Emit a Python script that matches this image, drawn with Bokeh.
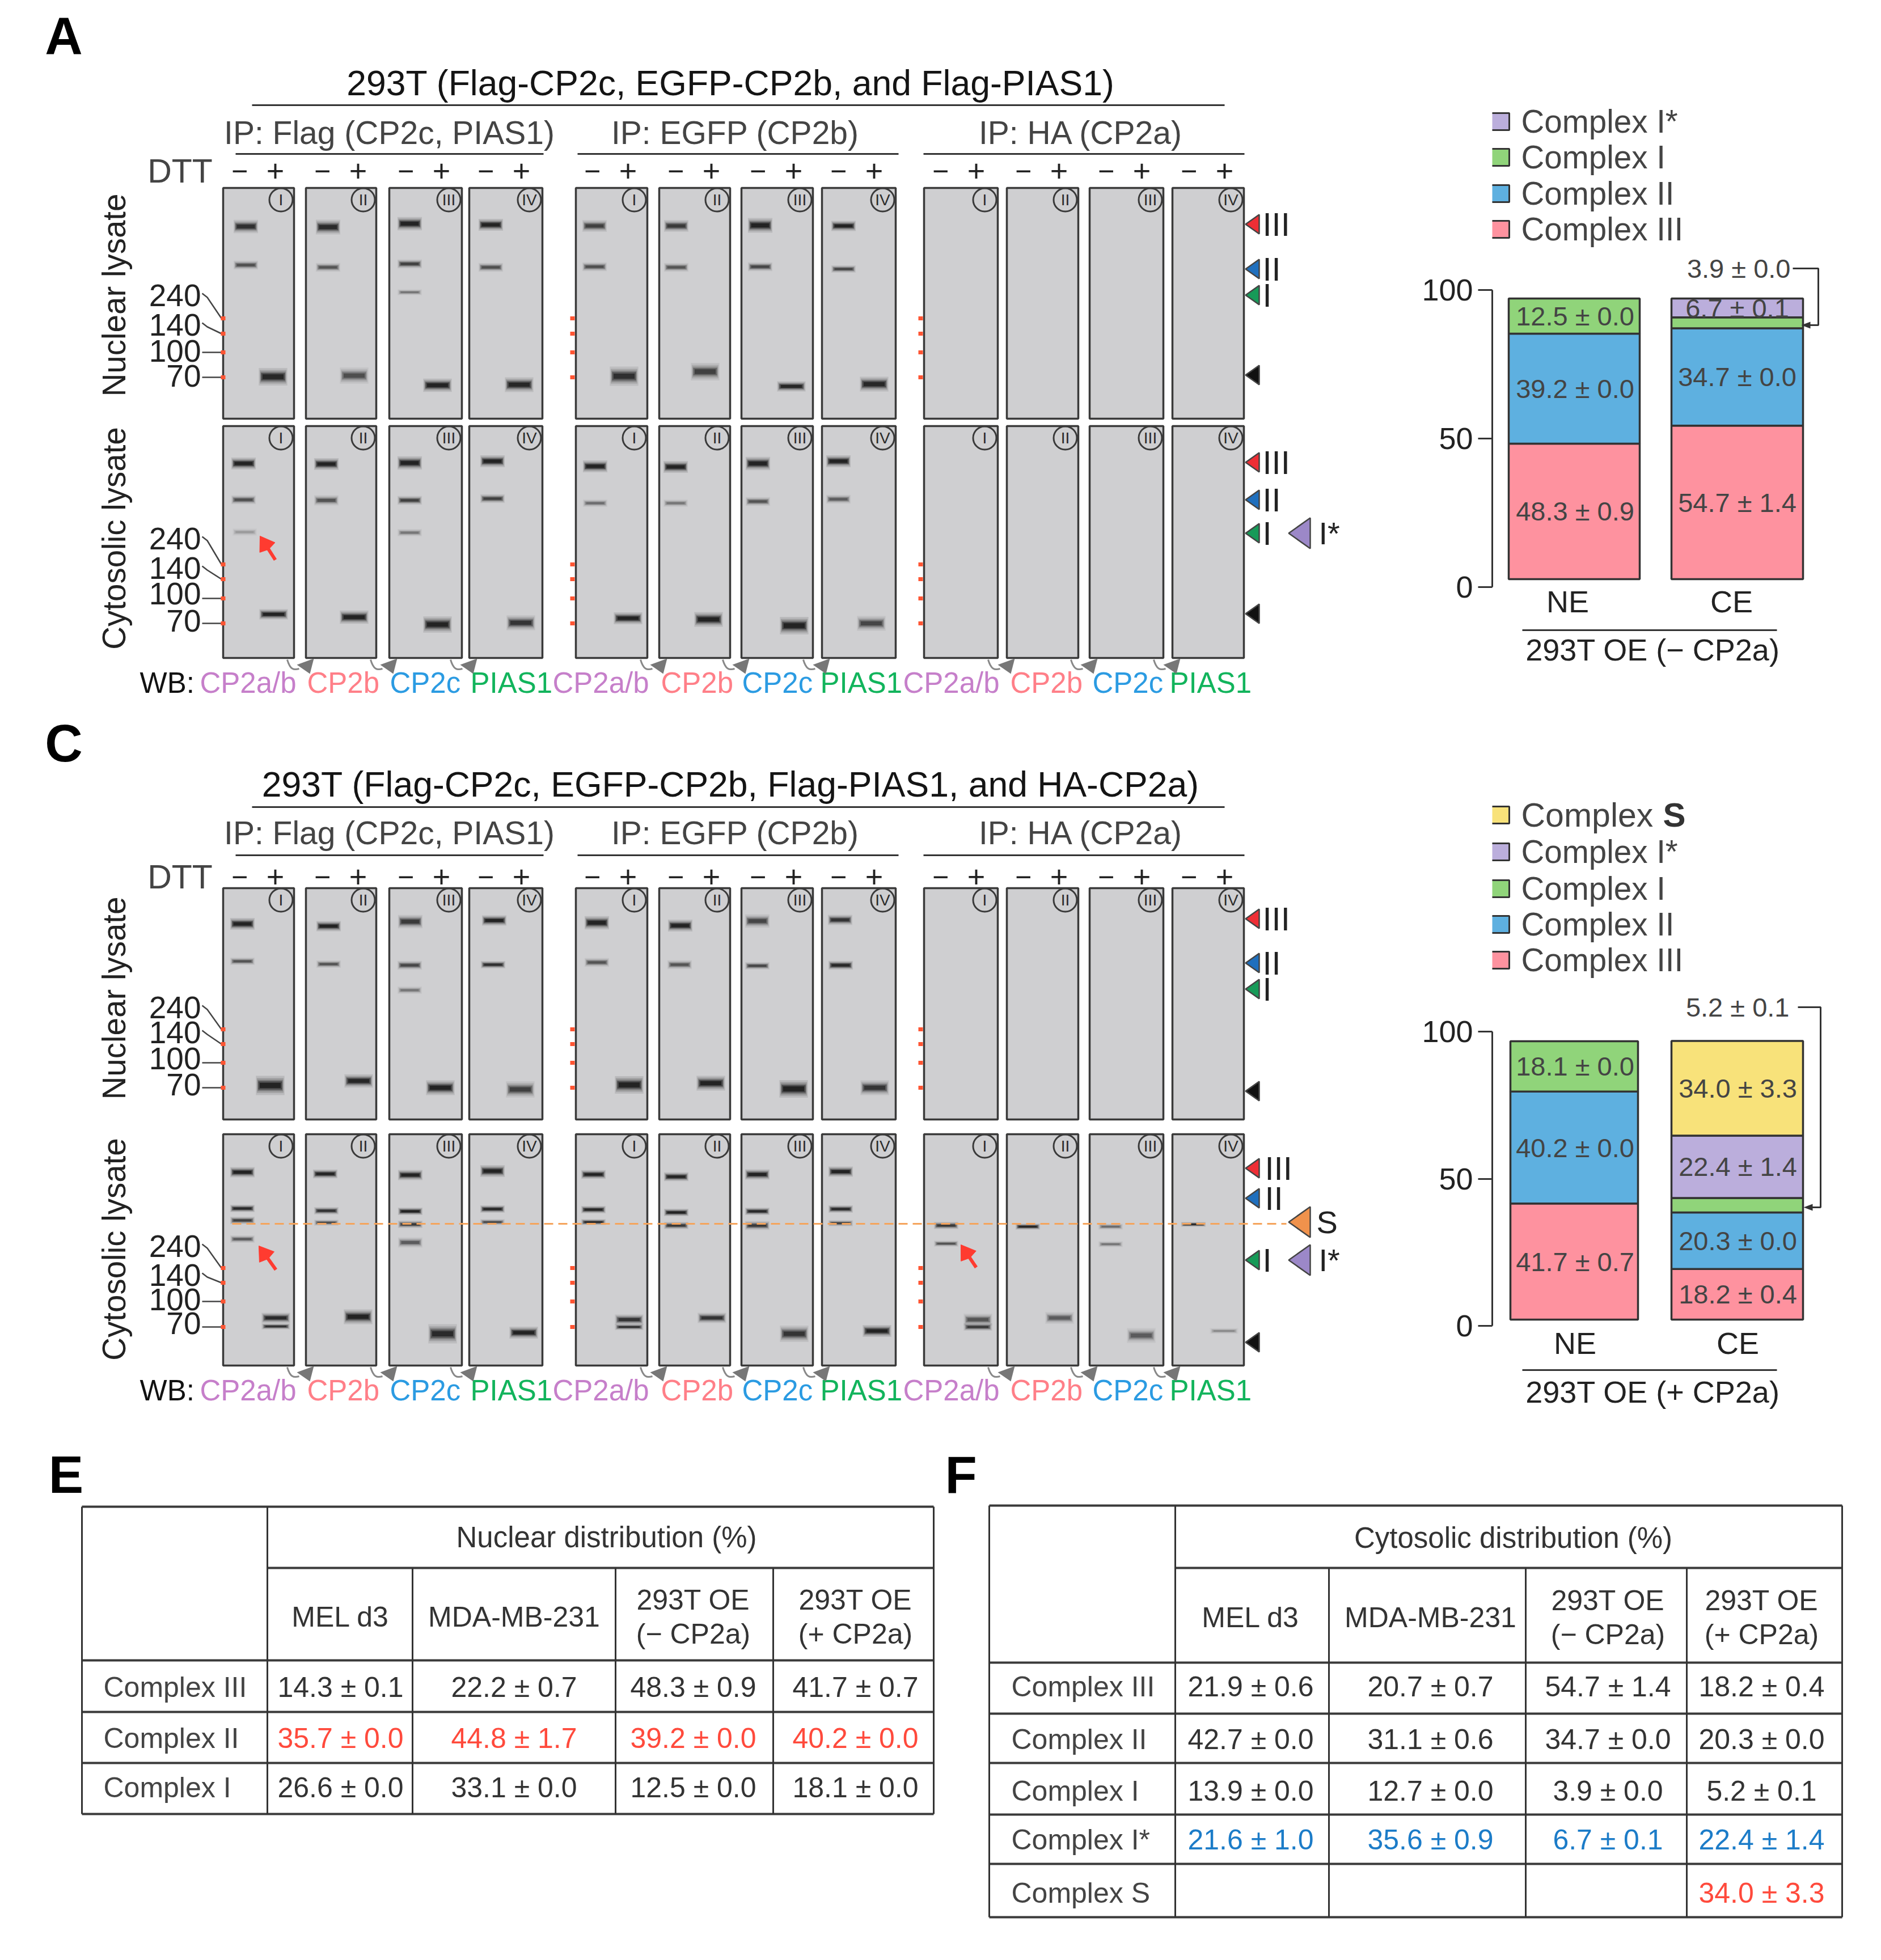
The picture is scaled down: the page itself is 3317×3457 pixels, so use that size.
import math
from bokeh.plotting import figure
from bokeh.layouts import column, row
from bokeh.models import Range1d, LinearAxis, FixedTicker, Label
from bokeh.core.properties import value
from bokeh.embed import file_html
from bokeh.resources import INLINE

FONT = "Liberation Sans"
INK = "#333333"

# ---------------------------------------------------------------- data
# Stacked bars: fractions per category (NE, CE)
categories = ["NE", "CE"]
complexes_b = ["Complex I*", "Complex I", "Complex II", "Complex III"]
complexes_d = ["Complex S", "Complex I*", "Complex I", "Complex II", "Complex III"]

b_iii = [48.3, 54.7]
b_ii = [39.2, 34.7]
b_i = [12.5, 3.9]
b_istar = [0.0, 6.7]
b_iii_err = [0.9, 1.4]
b_ii_err = [0.0, 0.0]
b_i_err = [0.0, 0.0]
b_istar_err = [0.0, 0.1]

d_iii = [41.7, 18.2]
d_ii = [40.2, 20.3]
d_i = [18.1, 5.2]
d_istar = [0.0, 22.4]
d_s = [0.0, 34.0]
d_iii_err = [0.7, 0.4]
d_ii_err = [0.0, 0.0]
d_i_err = [0.0, 0.1]
d_istar_err = [0.0, 1.4]
d_s_err = [0.0, 3.3]

# Tables
table_cols = ["MEL d3", "MDA-MB-231", "293T OE\n(\u2212 CP2a)", "293T OE\n(+ CP2a)"]
e_rows = ["Complex III", "Complex II", "Complex I"]
e_iii = ["14.3 \u00b1 0.1", "22.2 \u00b1 0.7", "48.3 \u00b1 0.9", "41.7 \u00b1 0.7"]
e_ii = ["35.7 \u00b1 0.0", "44.8 \u00b1 1.7", "39.2 \u00b1 0.0", "40.2 \u00b1 0.0"]
e_i = ["26.6 \u00b1 0.0", "33.1 \u00b1 0.0", "12.5 \u00b1 0.0", "18.1 \u00b1 0.0"]
f_rows = ["Complex III", "Complex II", "Complex I", "Complex I*", "Complex S"]
f_iii = ["21.9 \u00b1 0.6", "20.7 \u00b1 0.7", "54.7 \u00b1 1.4", "18.2 \u00b1 0.4"]
f_ii = ["42.7 \u00b1 0.0", "31.1 \u00b1 0.6", "34.7 \u00b1 0.0", "20.3 \u00b1 0.0"]
f_i = ["13.9 \u00b1 0.0", "12.7 \u00b1 0.0", "3.9 \u00b1 0.0", "5.2 \u00b1 0.1"]
f_istar = ["21.6 \u00b1 1.0", "35.6 \u00b1 0.9", "6.7 \u00b1 0.1", "22.4 \u00b1 1.4"]
f_s = ["", "", "", "34.0 \u00b1 3.3"]

# Blot bands, one list per membrane: (lane offset, migration, intensity, thickness)
a_nuclear = [
    [(40, 68, .85, 9), (40, 136, .6, 6), (88, 333, .95, 12)],
    [(39, 69, .9, 10), (39, 140, .55, 6), (85, 331, .6, 11)],
    [(36, 63, 1, 9), (36, 134, .7, 6), (36, 184, .35, 4), (85, 348, 1, 9)],
    [(38, 65, 1, 8), (38, 140, .6, 6), (88, 347, .95, 10)],
    [(33, 67, .7, 8), (33, 139, .6, 6), (85, 332, .85, 13)],
    [(30, 67, .75, 8), (30, 140, .55, 6), (81, 324, .7, 12)],
    [(33, 66, 1, 10), (33, 139, .65, 6), (88, 350, .95, 7)],
    [(38, 67, 1, 7), (38, 143, .65, 5), (92, 346, .95, 10)],
    [], [], [], [],
]
a_cytosolic = [
    [(36, 66, 1, 8), (36, 130, .6, 6), (38, 187, .18, 5), (89, 332, 1, 7)],
    [(36, 67, 1, 8), (36, 131, .55, 7), (85, 337, 1, 9)],
    [(36, 65, 1, 9), (36, 131, .7, 6), (36, 188, .35, 5), (85, 350, 1, 11)],
    [(41, 62, 1, 8), (41, 128, .7, 6), (91, 347, .8, 10)],
    [(34, 71, 1, 8), (34, 136, .4, 5), (92, 339, 1, 8)],
    [(29, 72, 1, 8), (29, 136, .35, 5), (87, 341, 1, 10)],
    [(29, 66, 1, 9), (29, 133, .55, 6), (93, 352, 1, 12)],
    [(29, 62, 1, 8), (29, 129, .5, 6), (87, 348, .65, 10)],
    [], [], [], [],
]
c_nuclear = [
    [(34, 63, 1, 8), (34, 129, .55, 5), (83, 348, 1, 13)],
    [(40, 67, 1, 7), (40, 134, .55, 5), (93, 340, .95, 9)],
    [(37, 59, .75, 9), (36, 136, .65, 6), (36, 180, .35, 5), (90, 352, 1, 10)],
    [(44, 57, 1, 7), (42, 135, .85, 5), (90, 355, .7, 11)],
    [(37, 61, 1, 9), (37, 131, .55, 6), (94, 347, 1, 12)],
    [(37, 66, 1, 8), (36, 135, .55, 6), (91, 344, 1, 10)],
    [(28, 58, .65, 9), (28, 137, .65, 5), (92, 354, 1, 12)],
    [(32, 56, .8, 7), (33, 136, .95, 6), (93, 352, .8, 10)],
    [], [], [], [],
]
c_cytosolic = [
    [(34, 67, 1, 7), (34, 131, .9, 5), (34, 152, .7, 5), (34, 185, .5, 5), (93, 324, .9, 7), (93, 339, .8, 4)],
    [(34, 70, 1, 6), (36, 135, .8, 5), (36, 156, .6, 4), (92, 322, 1, 10)],
    [(37, 72, 1, 7), (37, 136, 1, 5), (37, 159, .75, 5), (37, 191, .5, 7), (94, 352, .9, 13)],
    [(41, 65, 1, 8), (41, 132, .95, 5), (41, 155, .6, 4), (96, 350, 1, 8)],
    [(31, 71, 1, 6), (31, 133, .95, 5), (31, 155, .85, 4), (94, 327, .8, 7), (94, 340, .8, 4)],
    [(30, 75, 1, 6), (30, 138, 1, 5), (30, 161, .75, 5), (93, 324, .8, 7)],
    [(28, 71, 1, 7), (28, 136, .9, 5), (28, 161, .75, 6), (93, 352, .8, 11)],
    [(33, 66, 1, 7), (33, 132, .9, 5), (33, 157, .7, 4), (97, 347, 1, 8)],
    [(39, 161, .75, 5), (39, 193, .55, 4), (95, 327, .55, 8), (95, 340, .75, 5)],
    [(37, 163, .95, 4), (93, 324, .5, 8)],
    [(37, 163, .4, 4), (37, 194, .35, 4), (91, 355, .5, 10)],
    [(37, 159, 1, 3), (91, 347, .25, 4)],
]
mw_labels = ["240", "140", "100", "70"]
numerals = ["I", "II", "III", "IV"]
blots = ["CP2a/b", "CP2b", "CP2c", "PIAS1"]
blot_colors = ["#c67fca", "#ff7f88", "#2b9be2", "#12b45c"]


# ---------------------------------------------------------------- helpers
def canvas(x0, x1, y0, y1, border_left=0):
    """A figure whose default ranges are page pixels."""
    f = figure(width=x1 - x0, height=y1 - y0, output_backend="svg", toolbar_location=None,
               x_range=Range1d(x0 + border_left, x1), y_range=Range1d(y1, y0),
               x_axis_location=None, y_axis_location=None,
               min_border=0, min_border_left=border_left, min_border_right=0,
               min_border_top=0, min_border_bottom=0)
    f.grid.visible = False
    f.outline_line_color = None
    f.background_fill_color = "white"
    return f


def T(f, x, y, s, size=54, color=INK, align="center", angle=0, bold=False, baseline="middle"):
    f.text([x], [y], text=[s], text_font=value(FONT), text_font_size=f"{size}px",
           text_color=color, text_align=align, text_baseline=baseline, angle=angle,
           text_font_style="bold" if bold else "normal")


def seg(f, xs, ys, color=INK, w=3, dash="solid"):
    f.line(xs, ys, line_color=color, line_width=w, line_dash=dash)


def tri_left(f, tip_x, y, w, h, color):
    f.patch([tip_x, tip_x + w, tip_x + w], [y, y - h / 2, y + h / 2], fill_color=color,
            line_color="#444444", line_width=2.5)


def arrow(f, tip, tail):
    dx, dy = tail[0] - tip[0], tail[1] - tip[1]
    L = math.hypot(dx, dy)
    ux, uy = dx / L, dy / L
    nx, ny = -uy, ux
    back = (tip[0] + ux * 24, tip[1] + uy * 24)
    seg(f, [back[0], tail[0]], [back[1], tail[1]], "#ff3b30", 6)
    f.patch([tip[0], back[0] + nx * 16, back[0] - ux * -4, back[0] - nx * 16],
            [tip[1], back[1] + ny * 16, back[1] - uy * -4, back[1] - ny * 16],
            fill_color="#ff3b30", line_color="#ff3b30", line_width=1)


PANEL_X = [(393, 518), (539, 663), (686, 814), (827, 956),
           (1015, 1141), (1162, 1287), (1307, 1433), (1449, 1579),
           (1629, 1759), (1775, 1901), (1921, 2051), (2067, 2193)]
LANE_SIGN = (29, 92)
BAND_LAYERS = [(1.2, 2.6, .10), (1.12, 2.0, .16), (1.05, 1.5, .26), (1.0, 1.1, .42), (.88, .7, .6)]


def membranes(f, top, bottom, bands):
    lefts = [a for a, _ in PANEL_X]
    rights = [b for _, b in PANEL_X]
    f.quad(left=lefts, right=rights, top=[top] * 12, bottom=[bottom] * 12,
           fill_color="#cfcfd1", line_color="#3a3a3a", line_width=3.5)
    for (bw, bh, ba) in BAND_LAYERS:
        xs, ys, ws, hs, als = [], [], [], [], []
        for left, lane in zip(lefts, bands):
            for dx, mig, inten, thick in lane:
                xs.append(left + dx)
                ys.append(top + mig)
                ws.append((36 if dx < 60 else 42) * bw)
                hs.append(thick * bh)
                als.append(min(1, inten * ba))
        if xs:
            f.rect(xs, ys, width=ws, height=hs, fill_color="#0a0a0a", fill_alpha=als, line_color=None)
    cx = [r - 23 for r in rights]
    f.scatter(cx, [top + 21] * 12, marker="circle", size=41, fill_color=None,
              line_color="#3a3a3a", line_width=3)
    f.text(cx, [top + 21] * 12, text=numerals * 3, text_font=value(FONT), text_font_size="28px",
           text_color="#2a2a2a", text_align="center", text_baseline="middle")


def mw_ladder(f, red_y, label_y, left_x=393):
    for lab, ry, ly, k in zip(mw_labels, red_y, label_y, range(4)):
        T(f, 354, ly, lab, 55, "#222222", "right")
        if k < 2:
            seg(f, [356, 365, 390], [ly - 3, ly + 4, ry], "#444444", 2.5)
        else:
            seg(f, [356, 390], [ry, ry], "#444444", 2.5)
    for px in (393, 1009, 1623):
        f.rect([px] * 4, red_y, width=8, height=7, fill_color="#ff5533", line_color=None)


def blot_figure(f, title, title_center, lines):
    """Headers of one western-blot panel."""
    y_title, y_rule, y_ip, y_ip_rule, y_sign, y_wb = lines
    T(f, title_center, y_title, title, 62.5, "#141414")
    seg(f, [444, 2159], [y_rule, y_rule], "#333333", 3)
    for s, cx, a, b in (("IP: Flag (CP2c, PIAS1)", 686, 415, 958),
                        ("IP: EGFP (CP2b)", 1296, 1018, 1584),
                        ("IP: HA (CP2a)", 1906, 1628, 2194)):
        T(f, cx, y_ip, s, 57, "#444444")
        seg(f, [a, b], [y_ip_rule, y_ip_rule], "#333333", 3)
    T(f, 317, y_sign, "DTT", 59, "#444444")
    for a, _ in PANEL_X:
        T(f, a + LANE_SIGN[0], y_sign, "\u2212", 50, "#222222")
        T(f, a + LANE_SIGN[1], y_sign, "+", 54, "#222222")
    T(f, 246, y_wb, "WB:", 51, "#111111", "left")
    xs = [352, 541, 687, 829, 974, 1165, 1308, 1446, 1592, 1781, 1926, 2062]
    for i, x in enumerate(xs):
        T(f, x, y_wb, blots[i % 4], 51, blot_colors[i % 4], "left")


def curved_arrows(f, y):
    for i, (a, b) in enumerate(PANEL_X[:-1]):
        if i in (3, 7):
            continue
        nx = PANEL_X[i + 1][0]
        f.bezier(x0=[nx - 33], y0=[y + 3], x1=[nx - 12], y1=[y + 19],
                 cx0=[nx - 28], cy0=[y + 20], cx1=[nx - 22], cy1=[y + 22],
                 line_color="#888888", line_width=3)
        f.patch([nx - 16, nx + 14, nx + 7], [y + 12, y + 1, y + 28], fill_color="#777777", line_color=None)


# ---------------------------------------------------------------- left column (A, C)
left = canvas(0, 2370, 0, 2550)
T(left, 112, 62, "A", 92, "#000000", bold=True)
T(left, 112, 1310, "C", 92, "#000000", bold=True)

blot_figure(left, "293T (Flag-CP2c, EGFP-CP2b, and Flag-PIAS1)", 1288, (145, 185, 233, 271, 301, 1204))
blot_figure(left, "293T (Flag-CP2c, EGFP-CP2b, Flag-PIAS1, and HA-CP2a)", 1288, (1382, 1423, 1468, 1508, 1546, 2452))

membranes(left, 331, 738, a_nuclear)
membranes(left, 751, 1160, a_cytosolic)
membranes(left, 1566, 1974, c_nuclear)
membranes(left, 2000, 2408, c_cytosolic)

T(left, 201, 520, "Nuclear lysate", 56.5, "#222222", angle=math.pi / 2)
T(left, 201, 949, "Cytosolic lysate", 56.5, "#222222", angle=math.pi / 2)
T(left, 201, 1760, "Nuclear lysate", 56.5, "#222222", angle=math.pi / 2)
T(left, 201, 2203, "Cytosolic lysate", 56.5, "#222222", angle=math.pi / 2)

mw_ladder(left, [561, 588, 621, 665], [520, 572, 618, 662])
mw_ladder(left, [995, 1021, 1055, 1099], [949, 1001, 1046, 1094])
mw_ladder(left, [1815, 1841, 1874, 1918], [1776, 1820, 1866, 1912])
mw_ladder(left, [2236, 2262, 2295, 2340], [2197, 2248, 2291, 2333])

curved_arrows(left, 1160)
curved_arrows(left, 2408)

seg(left, [409, 2268], [2158, 2158], "#f5a45c", 3, "16 9")

RED, BLUE, GREEN, BLACK = "#ee2e35", "#1f6fbd", "#179a58", "#111111"
for y3, y2, y1, yb in ((395, 474, 520, 661), (815, 881, 940, 1082), (1620, 1698, 1744, 1924)):
    for y, col, lab in ((y3, RED, "III"), (y2, BLUE, "II"), (y1, GREEN, "I")):
        tri_left(left, 2196, y, 24, 34, col)
        T(left, 2226, y, lab, 58, "#222222", "left")
    tri_left(left, 2196, yb, 24, 34, BLACK)
for y, col, lab in ((2060, RED, "III"), (2113, BLUE, "II"), (2222, GREEN, "I")):
    tri_left(left, 2196, y, 24, 34, col)
    T(left, 2230 if lab != "I" else 2226, y, lab, 58, "#222222", "left")
tri_left(left, 2196, 2367, 24, 34, BLACK)
tri_left(left, 2272, 940, 38, 54, "#9c88c8")
T(left, 2325, 940, "I*", 56, "#222222", "left")
tri_left(left, 2272, 2155, 38, 54, "#f0924c")
T(left, 2321, 2155, "S", 56, "#222222", "left")
tri_left(left, 2272, 2222, 38, 54, "#9c88c8")
T(left, 2325, 2222, "I*", 56, "#222222", "left")

arrow(left, (458, 945), (485, 987))
arrow(left, (456, 2197), (486, 2239))
arrow(left, (1694, 2195), (1721, 2235))


# ---------------------------------------------------------------- bar panels (B, D)
FILL = {"Complex III": "#fe929f", "Complex II": "#5eb0e0", "Complex I": "#90d47a",
        "Complex I*": "#bbaedc", "Complex S": "#f8e27a"}


def linear_range(frame_top, frame_bottom, px0, px100):
    per = (px0 - px100) / 100.0
    return Range1d(start=(px0 - frame_bottom) / per, end=(px0 - frame_top) / per)


def bar_panel(y0, y1, letter, letter_y, axis_px, bar_px, stack, errs, names, spans, label_x, legend_y,
              name_x, note, bracket, caption, caption_y, rule_y, ne_y):
    f = canvas(2370, 3301, y0, y1, border_left=261)
    f.extra_y_ranges = {"axis": linear_range(y0, y1, *axis_px), "bars": linear_range(y0, y1, *bar_px)}
    ax = LinearAxis(y_range_name="axis", ticker=FixedTicker(ticks=[0, 50, 100]), bounds=(0, 100))
    ax.axis_line_color = INK
    ax.axis_line_width = 3
    ax.major_tick_line_color = INK
    ax.major_tick_line_width = 3
    ax.major_tick_out = 25
    ax.major_tick_in = 0
    ax.minor_tick_line_color = None
    ax.major_label_standoff = 9
    ax.major_label_text_font = FONT
    ax.major_label_text_font_size = "54px"
    ax.major_label_text_color = "#222222"
    f.add_layout(ax, "left")

    for c, (a, b) in enumerate(spans):
        bottom = 0.0
        for name, vals, er in zip(names, stack, errs):
            v = vals[c]
            if v <= 0:
                continue
            f.vbar(x=[(a + b) / 2], width=b - a, bottom=[bottom], top=[bottom + v], y_range_name="bars",
                   fill_color=FILL[name], line_color="#333333", line_width=3.5)
            if not (c == 1 and name == "Complex I"):
                f.text([label_x[c]], [bottom + v / 2], text=[f"{v:.1f} \u00b1 {er[c]:.1f}"], y_range_name="bars",
                       text_font=value(FONT), text_font_size="47px", text_color="#444444",
                       text_align="center", text_baseline="middle")
            bottom += v

    for k, (name, ly) in enumerate(zip(list(reversed(names)), legend_y)):
        f.rect([2645], [ly], width=32, height=30, fill_color=FILL[name], line_color="#333333", line_width=3)
        if name == "Complex S":
            T(f, 2682, ly, "Complex", 59, "#444444", "left")
            T(f, 2932, ly, "S", 60, "#333333", "left", bold=True)
        else:
            T(f, 2682, ly, name, 56.5, "#444444", "left")

    T(f, name_x[0], ne_y, categories[0], 54, "#222222")
    T(f, name_x[1], ne_y, categories[1], 54, "#222222")
    seg(f, [2684, 3133], [rule_y, rule_y], "#333333", 3)
    T(f, 2914, caption_y, caption, 54, "#222222")

    note_text, nx, ny, bx0, bx1, by1, tip = note + bracket
    T(f, nx, ny, note_text, 47, "#444444", "right")
    seg(f, [bx0, bx1, bx1, tip], [ny, ny, by1, by1], "#333333", 3)
    f.patch([tip - 6, tip + 10, tip + 10], [by1, by1 - 6, by1 + 6], fill_color="#333333", line_color=None)

    f.add_layout(Label(x=2428, y=letter_y, text=letter, text_font=FONT, text_font_size="92px",
                       text_font_style="bold", text_color="#000000", text_align="center",
                       text_baseline="middle"))
    f.add_layout(Label(x=2486, y=(axis_px[0] + axis_px[1]) / 2, text="Distribution (%)", text_font=FONT,
                       text_font_size="54px", text_color="#222222", text_align="center",
                       text_baseline="middle", angle=math.pi / 2))
    return f


fig_b = bar_panel(
    0, 1258, "B", 62, (1035, 511), (1021, 526),
    [b_iii, b_ii, b_i, b_istar], [b_iii_err, b_ii_err, b_i_err, b_istar_err],
    complexes_b[::-1], [(2660, 2891), (2947, 3179)], (2777, 3063), [214, 277, 341, 404],
    (2764, 3053), ("3.9 \u00b1 0.0", 3157, 473), (3161, 3206, 573, 3182),
    "293T OE (\u2212 CP2a)", 1145, 1111, 1060)

fig_d = bar_panel(
    1258, 2550, "D", 1312, (2338, 1819), (2327, 1836),
    [d_iii, d_ii, d_i, d_istar, d_s], [d_iii_err, d_ii_err, d_i_err, d_istar_err, d_s_err],
    complexes_d[::-1], [(2663, 2888), (2947, 3179)], (2777, 3064), [1437, 1502, 1567, 1630, 1693],
    (2777, 3064), ("5.2 \u00b1 0.1", 3155, 1776), (3170, 3210, 2129, 3186),
    "293T OE (+ CP2a)", 2454, 2416, 2368)


# ---------------------------------------------------------------- tables (E, F)
tables = canvas(0, 3301, 2550, 3441)
T(tables, 116, 2600, "E", 92, "#000000", bold=True)
T(tables, 1694, 2600, "F", 92, "#000000", bold=True)

TABLE_RED, TABLE_BLUE = "#ff4a3c", "#1c7cc8"


def table(f, vx, hy, title, title_x, title_y, col_x, col_y, row_x, row_y, rows, values, colors):
    x0, x1 = vx[0], vx[-1]
    for k, y in enumerate(hy):
        a = vx[1] if k == 1 else x0
        seg(f, [a, x1], [y, y], "#3a3a3a", 4)
    seg(f, [vx[0], vx[0]], [hy[0], hy[-1]], "#333333", 3)
    seg(f, [vx[1], vx[1]], [hy[0], hy[-1]], "#333333", 3)
    seg(f, [x1, x1], [hy[0], hy[-1]], "#333333", 3)
    for x in vx[2:-1]:
        seg(f, [x, x], [hy[1], hy[-1]], "#333333", 3)
    T(f, title_x, title_y, title, 51, "#333333")
    for name, x in zip(table_cols, col_x):
        parts = name.split("\n")
        if len(parts) == 1:
            T(f, x, col_y, name, 50, "#333333")
        else:
            T(f, x, col_y - 30, parts[0], 50, "#333333")
            T(f, x, col_y + 30, parts[1], 50, "#333333")
    for name, vals, col, y in zip(rows, values, colors, row_y):
        T(f, row_x, y, name, 50, "#444444", "left")
        for s, x in zip(vals, col_x):
            if s:
                T(f, x, y, s, 50, col)


table(tables, [144, 471, 727, 1085, 1363, 1646], [2657, 2765, 2928, 3019, 3109, 3199],
      "Nuclear distribution (%)", 1069, 2711, [600, 906, 1222, 1508], 2851, 182,
      [2975, 3065, 3152], e_rows, [e_iii, e_ii, e_i], ["#333333", TABLE_RED, "#333333"])

table(tables, [1744, 2072, 2343, 2690, 2974, 3248], [2655, 2765, 2932, 3022, 3109, 3200, 3287, 3381],
      "Cytosolic distribution (%)", 2668, 2712, [2205, 2522, 2835, 3106], 2852, 1783,
      [2974, 3067, 3158, 3244, 3338], f_rows, [f_iii, f_ii, f_i, f_istar, f_s],
      ["#333333", "#333333", "#333333", TABLE_BLUE, TABLE_RED])

page = column(row(left, column(fig_b, fig_d)), tables)
open("out.html", "w").write(file_html(page, INLINE))
